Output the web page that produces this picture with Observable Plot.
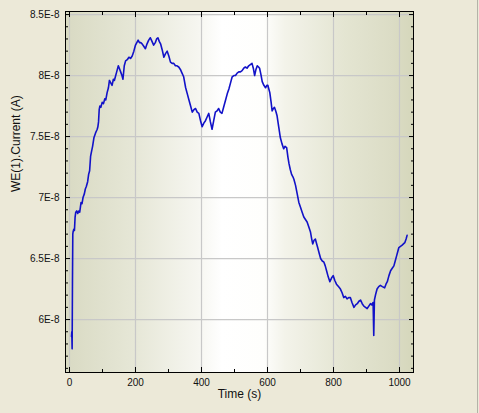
<!DOCTYPE html>
<html><head><meta charset="utf-8">
<script src="https://cdn.jsdelivr.net/npm/d3@7"></script>
<script src="https://cdn.jsdelivr.net/npm/@observablehq/plot@0.6"></script>
<style>
html,body{margin:0;padding:0;background:#ECE9D8;}
#wrap{width:477px;height:413px;border-right:1px solid #B4B3A8;background:#ECE9D8;overflow:hidden;}
</style></head><body><div id="wrap"></div>
<script>
// Time (s)
const time = [6,7,8,9,10,11,13,15,17,19,22,25,28,31,33,35,38,41,45,48,51,55,58,61,64,67,70,74,79,84,86,88,90,92,95,99,103,107,110,114,118,121,125,129,133,136,139,143,148,151,155,159,162,166,170,175,180,185,190,195,200,204,208,212,216,220,225,230,235,240,245,250,255,260,264,268,272,276,281,286,291,296,301,306,311,316,321,326,331,336,341,346,352,357,362,367,372,377,382,387,392,397,402,407,412,417,422,427,432,437,442,447,452,457,462,467,473,478,483,488,493,498,503,508,513,518,523,528,533,538,543,548,553,557,561,565,569,573,576,580,584,589,594,598,601,604,607,611,614,618,621,625,629,634,639,644,649,653,658,662,665,669,673,677,680,685,690,695,700,705,710,715,720,725,730,734,737,741,745,748,752,757,761,766,771,775,779,784,789,794,799,804,809,815,821,826,831,836,841,846,851,856,862,867,872,877,882,887,892,897,902,907,912,916,920,922,924,928,932,937,942,948,955,959,963,968,973,978,983,987,991,995,998,1003,1008,1012,1016,1020,1023];
// WE(1).Current, in units of 1E-8 A
const current = [5.86,5.90,5.76,6.30,6.70,6.72,6.74,6.73,6.84,6.88,6.89,6.87,6.89,6.88,6.92,6.96,6.95,7.00,7.03,7.07,7.09,7.13,7.19,7.22,7.34,7.38,7.42,7.49,7.53,7.56,7.58,7.62,7.72,7.75,7.74,7.78,7.77,7.81,7.80,7.86,7.90,7.96,7.94,7.92,7.97,7.96,7.99,8.03,8.08,8.06,8.03,8.00,7.97,8.08,8.12,8.13,8.15,8.14,8.16,8.20,8.25,8.27,8.29,8.27,8.27,8.26,8.24,8.22,8.26,8.29,8.31,8.28,8.25,8.27,8.30,8.31,8.28,8.26,8.21,8.15,8.18,8.20,8.16,8.11,8.10,8.10,8.08,8.08,8.07,8.05,8.02,7.99,7.90,7.85,7.80,7.75,7.70,7.72,7.73,7.70,7.69,7.63,7.58,7.61,7.63,7.66,7.69,7.62,7.56,7.63,7.70,7.71,7.73,7.70,7.69,7.74,7.80,7.85,7.89,7.94,7.99,8.00,8.00,8.02,8.03,8.03,8.04,8.06,8.07,8.06,8.08,8.09,8.10,8.06,8.00,8.05,8.08,8.07,8.06,8.01,7.95,7.92,7.90,7.92,7.92,7.89,7.86,7.78,7.71,7.73,7.74,7.71,7.67,7.58,7.49,7.44,7.40,7.42,7.41,7.33,7.28,7.23,7.19,7.17,7.15,7.10,7.03,6.96,6.92,6.88,6.84,6.82,6.80,6.76,6.72,6.66,6.62,6.65,6.66,6.63,6.59,6.54,6.50,6.48,6.47,6.44,6.40,6.35,6.31,6.34,6.36,6.32,6.29,6.27,6.25,6.22,6.18,6.19,6.17,6.18,6.18,6.14,6.10,6.12,6.13,6.15,6.16,6.13,6.11,6.10,6.09,6.11,6.13,6.12,6.14,5.87,6.16,6.21,6.25,6.27,6.28,6.27,6.26,6.29,6.31,6.36,6.40,6.42,6.44,6.48,6.52,6.56,6.59,6.60,6.61,6.62,6.63,6.66,6.69];

const xTicks = [0,200,400,600,800,1000];
const xTickLabels = ["0","200","400","600","800","1000"];
const xMinorTicks = [100,300,500,700,900];
const yTicks = [6,6.5,7,7.5,8,8.5];
const yTickLabels = ["6E-8","6.5E-8","7E-8","7.5E-8","8E-8","8.5E-8"];
const yMinorTicks = [5.6,5.7,5.8,5.9,6.1,6.2,6.3,6.4,6.6,6.7,6.8,6.9,7.1,7.2,7.3,7.4,7.6,7.7,7.8,7.9,8.1,8.2,8.3,8.4];
const xLabel = "Time (s)";
const yLabel = "WE(1).Current (A)";

const data = time.map((t, i) => ({t, c: current[i]}));

const gradientDefs = () => {
  const ns = "http://www.w3.org/2000/svg";
  const defs = document.createElementNS(ns, "defs");
  const lg = document.createElementNS(ns, "linearGradient");
  lg.setAttribute("id", "bgGrad");
  lg.setAttribute("x1", "0"); lg.setAttribute("x2", "1");
  lg.setAttribute("y1", "0"); lg.setAttribute("y2", "0");
  [["0", "#D9DAC3"], ["0.2", "#E6E7D7"], ["0.38", "#F6F6F0"], ["0.45", "#FFFFFF"], ["0.57", "#FEFEFC"], ["0.63", "#F3F3EA"], ["0.8", "#E4E5D2"], ["0.94", "#DBDCC5"], ["1", "#D5D7BB"]]
    .forEach(([o, c]) => {
      const s = document.createElementNS(ns, "stop");
      s.setAttribute("offset", o); s.setAttribute("stop-color", c);
      lg.appendChild(s);
    });
  defs.appendChild(lg);
  return defs;
};

const blank = () => "";
const chart = Plot.plot({
  width: 477, height: 413,
  marginLeft: 65, marginRight: 64, marginTop: 11, marginBottom: 41,
  style: {background: "transparent", fontFamily: "'Liberation Sans', Arial, sans-serif", fontSize: "10px", color: "#111"},
  x: {domain: [-12.1, 1042.4], label: null},
  y: {domain: [5.566, 8.525], label: null},
  marks: [
    gradientDefs,
    Plot.frame({fill: "url(#bgGrad)", stroke: "none"}),
    Plot.gridX(xTicks, {stroke: "#c8c8c8", strokeOpacity: 1, strokeWidth: 1.2}),
    Plot.gridY(yTicks, {stroke: "#c8c8c8", strokeOpacity: 1, strokeWidth: 1.2}),
    Plot.line(data, {x: "t", y: "c", stroke: "#1212c8", strokeWidth: 1.6}),
    Plot.frame({stroke: "#000", strokeWidth: 1}),
    Plot.axisX(xTicks, {anchor: "bottom", tickSize: -5, tickFormat: blank, label: null, stroke: "#000"}),
    Plot.axisX(xMinorTicks, {anchor: "bottom", tickSize: -3, tickFormat: blank, label: null, stroke: "#000"}),
    Plot.axisX(xTicks, {anchor: "top", tickSize: -5, tickFormat: blank, label: null, stroke: "#000"}),
    Plot.axisX(xMinorTicks, {anchor: "top", tickSize: -3, tickFormat: blank, label: null, stroke: "#000"}),
    Plot.axisY(yTicks, {anchor: "left", tickSize: -5, tickFormat: blank, label: null, stroke: "#000"}),
    Plot.axisY(yMinorTicks, {anchor: "left", tickSize: -3, tickFormat: blank, label: null, stroke: "#000"}),
    Plot.axisY(yTicks, {anchor: "right", tickSize: -5, tickFormat: blank, label: null, stroke: "#000"}),
    Plot.axisY(yMinorTicks, {anchor: "right", tickSize: -3, tickFormat: blank, label: null, stroke: "#000"}),
    Plot.axisX(xTicks, {anchor: "bottom", tickSize: 0, tickPadding: 6, tickFormat: d => xTickLabels[xTicks.indexOf(d)], label: null, fill: "#111"}),
    Plot.axisY(yTicks, {anchor: "left", tickSize: 0, tickPadding: 6, tickFormat: d => yTickLabels[yTicks.indexOf(d)], label: null, fill: "#111"}),
    Plot.text([xLabel], {frameAnchor: "bottom", dy: 25, fontSize: 12, fill: "#111"}),
    Plot.text([yLabel], {frameAnchor: "left", dx: -49, rotate: -90, fontSize: 12, fill: "#111"})
  ]
});
document.getElementById("wrap").appendChild(chart);
</script>
</body></html>
